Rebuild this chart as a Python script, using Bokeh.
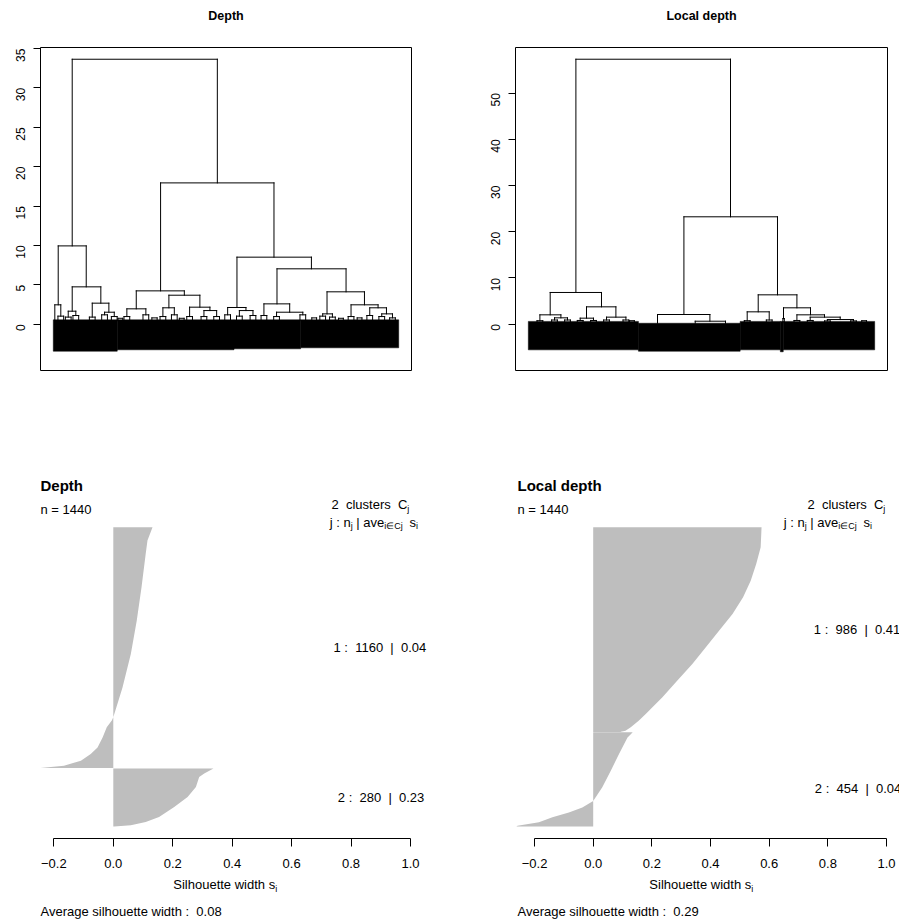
import math
from bokeh.plotting import figure
from bokeh.models import Range1d, FixedTicker, Label, CustomJSTickFormatter
from bokeh.layouts import column, row
from bokeh.embed import file_html
from bokeh.resources import INLINE

FONT = "Liberation Sans"
NB = "\u00a0"

# ----------------------------------------------------------------- data
N_OBS = 1440

# "Depth" dendrogram: visible merges (leaf-order positions, heights)
depth_x_left = [76.3, 17.6, 3.4, 76.3, 59.6, 160.2, 211.8, 446.5, 344.6, 305.2, 481.3, 456.2, 568.1,
                628.1, 766.4, 727.4, 776.5, 934.1, 879.4, 932.3, 1143.7, 1125.6, 1244.3, 1322.7, 1373.0]
depth_x_right = [684.2, 135.0, 28.5, 196.2, 91.4, 229.8, 252.4, 921.5, 545.9, 384.8, 611.1, 504.0, 653.2,
                 681.3, 1078.3, 804.1, 833.5, 1223.4, 987.3, 1042.3, 1300.5, 1166.3, 1357.5, 1392.7, 1417.9]
depth_height = [33.64, 9.94, 2.46, 4.74, 1.65, 2.67, 1.52, 17.94, 4.23, 1.95, 3.68, 2.08, 2.16,
                1.73, 8.51, 2.12, 1.73, 7.03, 2.58, 1.52, 4.11, 1.31, 2.46, 2.08, 1.31]
depth_h_left = [9.94, 2.46, 0.45, 1.65, 0.9, 0.9, 1.19, 4.23, 1.95, 0.97, 2.08, 0.97, 0.97,
                0.97, 2.12, 1.19, 1.02, 2.58, 1.1, 0.97, 1.31, 1.02, 0.97, 1.1, 0.97]
depth_h_right = [17.94, 4.74, 1.02, 2.67, 1.1, 1.52, 0.97, 8.51, 3.68, 1.19, 2.16, 1.19, 1.73,
                 0.97, 7.03, 1.73, 1.1, 4.11, 1.52, 1.19, 2.46, 0.9, 2.08, 1.31, 0.8]
depth_tiny_left = [16.5, 47.6, 79.4, 148.2, 199.8, 240.4, 268.0, 293.2, 372.8, 410.0, 444.2, 492.0, 525.0,
                   556.1, 616.1, 669.3, 715.4, 764.5, 821.5, 867.4, 920.3, 1030.3, 1080.0, 1113.6, 1154.3,
                   1192.0, 1232.3, 1270.0, 1310.7, 1361.0, 1405.9]
depth_tiny_right = [40.5, 71.6, 103.4, 172.2, 223.8, 264.4, 288.0, 317.2, 396.8, 432.0, 468.2, 516.0, 545.0,
                    580.1, 640.1, 693.3, 739.4, 788.5, 845.5, 891.4, 944.3, 1054.3, 1100.0, 1137.6, 1178.3,
                    1212.0, 1256.3, 1290.0, 1334.7, 1385.0, 1429.9]
depth_tiny_h = [1.02, 0.9, 1.1, 0.9, 1.19, 0.97, 0.75, 0.97, 1.19, 0.8, 0.97, 1.19, 0.75,
                0.97, 0.97, 0.97, 1.19, 1.02, 1.1, 1.1, 0.97, 1.19, 0.8, 1.02, 0.9,
                0.75, 0.97, 0.8, 1.1, 0.97, 0.8]
# leaf-label block (overlapping labels): section edges, top and bottom
depth_band_edges = [-3, 265, 754, 1033, 1444]
depth_band_top = [0.55, 0.55, 0.55, 0.55]
depth_band_bottom = [-3.43, -3.25, -3.13, -3.0]
depth_y_ticks = [0, 5, 10, 15, 20, 25, 30, 35]

# "Local depth" dendrogram
local_x_left = [195.8, 88.4, 45.4, 106.4, 240.1, 213.7, 323.7, 647.0, 536.7, 694.2, 957.4, 911.4,
                1063.1, 1060.5, 1119.1, 1174.6, 1246.5]
local_x_right = [841.7, 302.7, 133.1, 160.7, 362.9, 269.3, 404.7, 1038.0, 755.6, 820.8, 1119.1, 1003.4,
                 1175.9, 1066.5, 1234.4, 1299.9, 1355.5]
local_height = [57.35, 6.86, 2.02, 1.37, 3.75, 1.3, 1.52, 23.24, 2.09, 0.64, 6.35, 2.67,
                3.54, 1.2, 2.02, 1.52, 1.0]
local_h_left = [6.86, 2.02, 0.75, 0.9, 1.3, 0.8, 0.9, 2.09, 0.2, 0.2, 2.67, 0.75,
                1.2, 0.3, 0.8, 0.8, 0.7]
local_h_right = [23.24, 3.75, 1.37, 0.9, 1.52, 0.8, 0.9, 6.35, 0.64, 0.2, 3.54, 0.9,
                 2.02, 0.3, 1.52, 1.0, 0.7]
local_tiny_left = [33.4, 94.4, 148.7, 201.7, 257.3, 311.7, 392.7, 420.0, 899.4, 991.4, 1107.1, 1162.6,
                   1234.5, 1343.5, 1390.0]
local_tiny_right = [57.4, 118.4, 172.7, 225.7, 281.3, 335.7, 416.7, 440.0, 923.4, 1015.4, 1131.1, 1186.6,
                    1258.5, 1367.5, 1410.0]
local_tiny_h = [0.75, 0.9, 0.9, 0.8, 0.8, 0.9, 0.9, 0.75, 0.75, 0.9, 0.8, 0.8, 0.7, 0.7, 0.75]
local_band_edges = [-3, 457, 882, 1050, 1062, 1444]
local_band_top = [0.6, 0.2, 0.6, 0.6, 0.6]
local_band_bottom = [-5.56, -5.86, -5.56, -5.98, -5.56]
local_y_ticks = [0, 10, 20, 30, 40, 50]

# Silhouette profiles (rank within cluster, silhouette width)
depth_sizes = [1160, 280]
depth_avgs = ["0.04", "0.23"]
depth_overall = "0.08"
depth_c1_rank = [0, 64, 128, 289, 449, 610, 771, 915, 931, 963, 1012, 1060, 1092, 1124, 1148, 1159]
depth_c1_s = [0.132, 0.115, 0.109, 0.095, 0.079, 0.059, 0.031, 0.0, -0.005, -0.022, -0.036, -0.053,
              -0.076, -0.109, -0.166, -0.245]
depth_c2_rank = [0, 24, 40, 89, 137, 185, 233, 257, 273, 279]
depth_c2_s = [0.337, 0.306, 0.289, 0.278, 0.25, 0.205, 0.154, 0.109, 0.059, 0.003]

local_sizes = [986, 454]
local_avgs = ["0.41", "0.04"]
local_overall = "0.29"
local_c1_rank = [0, 96, 176, 257, 337, 417, 498, 578, 658, 738, 819, 899, 931, 963, 980, 985]
local_c1_s = [0.574, 0.571, 0.556, 0.537, 0.511, 0.475, 0.429, 0.384, 0.338, 0.287, 0.236, 0.179,
              0.156, 0.128, 0.11, 0.094]
local_c2_rank = [0, 24, 104, 184, 264, 330, 361, 385, 409, 433, 449, 453]
local_c2_s = [0.134, 0.117, 0.088, 0.06, 0.031, 0.0, -0.037, -0.083, -0.139, -0.185, -0.258, -0.262]

sil_x_ticks = [-0.2, 0.0, 0.2, 0.4, 0.6, 0.8, 1.0]

# ----------------------------------------------------------------- helpers
WIDTHS = {' ': .278, NB: .278, ':': .278, '|': .26, '.': .278, '=': .584, 'a': .556, 'c': .5,
          'd': .556, 'e': .556, 'g': .556, 'h': .556, 'i': .222, 'j': .222, 'l': .222, 'n': .556,
          'o': .556, 'r': .333, 's': .5, 't': .278, 'u': .556, 'v': .5, 'w': .722, 'C': .722,
          'S': .667, 'A': .667, '\u2208': .84}


def tw(s, size):
    return sum(WIDTHS.get(c, .556) for c in s) * size


def make_fig(origin, size, region, xr, yr):
    """Frame = whole canvas; ranges extended so that `region` (page px) maps onto xr / yr."""
    ox, oy = origin
    w, h = size
    fx0, fy0, fx1, fy1 = region
    kx = (xr[1] - xr[0]) / (fx1 - fx0)
    ky = (yr[1] - yr[0]) / (fy1 - fy0)
    cxr = (xr[0] - (fx0 - ox) * kx, xr[1] + (ox + w - fx1) * kx)
    cyr = (yr[0] - (oy + h - fy1) * ky, yr[1] + (fy0 - oy) * ky)
    p = figure(width=w, height=h, x_range=Range1d(*cxr), y_range=Range1d(*cyr),
               output_backend="svg", toolbar_location=None, min_border=0,
               min_border_left=0, min_border_right=0, min_border_top=0, min_border_bottom=0)
    p.grid.visible = False
    p.background_fill_color = "white"
    p.border_fill_color = "white"
    p.outline_line_color = None
    g = dict(fx0=fx0, fx1=fx1, fy0=fy0, fy1=fy1, xr=xr, yr=yr)
    return p, g


def label(p, g, px, py, text, size, bold=False, align="left"):
    x = g["xr"][0] + (px - g["fx0"]) / (g["fx1"] - g["fx0"]) * (g["xr"][1] - g["xr"][0])
    y = g["yr"][1] - (py - g["fy0"]) / (g["fy1"] - g["fy0"]) * (g["yr"][1] - g["yr"][0])
    p.add_layout(Label(x=x, y=y, text=text, text_font=FONT, text_font_size=f"{size}px",
                       text_font_style="bold" if bold else "normal", text_align=align,
                       text_baseline="middle", text_color="black"))


def rich(p, g, px, py, pieces, size=13, sub=9, drop=4):
    x = px
    for txt, is_sub in pieces:
        fs = sub if is_sub else size
        label(p, g, x, py + (drop if is_sub else 0), txt, fs)
        x += tw(txt, fs)


def dendrogram(p, g, title, xl, xr, h, hl, hr, tl, tr, th, leg, edges, top, bottom, ticks):
    x0, y0, x1, y1 = [], [], [], []
    for a, b, hh, ha, hb in zip(xl, xr, h, hl, hr):
        x0 += [a, a, b]; y0 += [ha, hh, hh]; x1 += [a, b, b]; y1 += [hh, hh, hb]
    for a, b, hh in zip(tl, tr, th):
        x0 += [a, a, b]; y0 += [leg, hh, hh]; x1 += [a, b, b]; y1 += [hh, hh, leg]
    p.quad(left=edges[:-1], right=edges[1:], top=top, bottom=bottom,
           fill_color="black", line_color="black", line_width=0.5)
    p.segment(x0=x0, y0=y0, x1=x1, y1=y1, line_color="black", line_width=1, line_cap="square")
    # plot box
    p.quad(left=[g["xr"][0]], right=[g["xr"][1]], bottom=[g["yr"][0]], top=[g["yr"][1]],
           fill_color=None, line_color="black", line_width=1)
    p.xaxis.visible = False
    ax = p.yaxis[0]
    ax.fixed_location = g["xr"][0]
    ax.ticker = FixedTicker(ticks=ticks)
    ax.bounds = (ticks[0], ticks[-1])
    ax.axis_line_color = None
    ax.major_tick_line_color = "black"
    ax.major_tick_out = 7
    ax.major_tick_in = 0
    ax.minor_tick_line_color = None
    ax.major_label_orientation = math.pi / 2
    ax.major_label_standoff = 13
    ax.major_label_text_font = FONT
    ax.major_label_text_font_size = "12px"
    ax.major_label_text_color = "black"
    cx = (g["fx0"] + g["fx1"]) / 2
    label(p, g, cx, 15.7, title, 12.5, bold=True, align="center")


def sil_poly(ranks, s, top, n):
    xs = [0.0, s[0]] + list(s) + [s[-1], 0.0]
    ys = [top, top] + [top - r - 0.5 for r in ranks] + [top - n, top - n]
    return xs, ys


def silhouette(p, g, title, sizes, avgs, overall, c1r, c1s, c2r, c2s,
               line1_x, line2_x, clus_pos, axis_center):
    n1, n2 = sizes
    total = n1 + n2 + 2
    xs1, ys1 = sil_poly(c1r, c1s, total, n1)
    xs2, ys2 = sil_poly(c2r, c2s, n2, n2)
    p.patch(xs1, ys1, fill_color="#BEBEBE", line_color=None)
    p.patch(xs2, ys2, fill_color="#BEBEBE", line_color=None)
    p.yaxis.visible = False
    ax = p.xaxis[0]
    ax.fixed_location = g["yr"][0]
    ax.ticker = FixedTicker(ticks=sil_x_ticks)
    ax.bounds = (sil_x_ticks[0], sil_x_ticks[-1])
    ax.formatter = CustomJSTickFormatter(
        code="return (tick < 0 ? '\u2212' : '') + Math.abs(tick).toFixed(1);")
    ax.axis_line_color = "black"
    ax.major_tick_line_color = "black"
    ax.major_tick_out = 8
    ax.major_tick_in = 0
    ax.minor_tick_line_color = None
    ax.major_label_standoff = 12
    ax.major_label_text_font = FONT
    ax.major_label_text_font_size = "13px"
    ax.major_label_text_color = "black"
    left = g["fx0"] + 1
    label(p, g, left, 485, title, 15, bold=True)
    label(p, g, left, 509, f"n = {N_OBS}", 13)
    rich(p, g, line1_x, 504.3, [(f"{len(sizes)}{NB}{NB}clusters{NB}{NB}C", False), ("j", True)])
    rich(p, g, line2_x, 521.7, [("j : n", False), ("j", True), (f"{NB}|{NB}ave", False),
                                ("i\u2208Cj", True), (f"{NB}{NB}s", False), ("i", True)])
    for j, (n, a, pos) in enumerate(zip(sizes, avgs, clus_pos), start=1):
        label(p, g, pos[0], pos[1], f"{j} :{NB}{NB}{n}{NB}{NB}|{NB}{NB}{a}", 13)
    w = tw("Silhouette width s", 13) + tw("i", 9)
    rich(p, g, axis_center - w / 2, 884, [("Silhouette width s", False), ("i", True)])
    label(p, g, left, 910.7, f"Average silhouette width :{NB}{NB}{overall}", 13)


# ----------------------------------------------------------------- figures
tl, gtl = make_fig((0, 0), (450, 460), (40, 47, 411, 370), (-56.56, 1497.56), (-5.88, 35.13))
dendrogram(tl, gtl, "Depth", depth_x_left, depth_x_right, depth_height, depth_h_left, depth_h_right,
           depth_tiny_left, depth_tiny_right, depth_tiny_h, 0.45,
           depth_band_edges, depth_band_top, depth_band_bottom, depth_y_ticks)

tr, gtr = make_fig((450, 0), (449, 460), (515, 47, 887, 370), (-56.56, 1497.56), (-10.03, 59.89))
dendrogram(tr, gtr, "Local depth", local_x_left, local_x_right, local_height, local_h_left, local_h_right,
           local_tiny_left, local_tiny_right, local_tiny_h, 0.5,
           local_band_edges, local_band_top, local_band_bottom, local_y_ticks)

bl, gbl = make_fig((0, 460), (450, 463), (39, 515, 410, 838), (-0.2483, 1.0), (-57.3, 1498.4))
silhouette(bl, gbl, "Depth", depth_sizes, depth_avgs, depth_overall,
           depth_c1_rank, depth_c1_s, depth_c2_rank, depth_c2_s,
           331.0, 329.3, [(333.0, 647.3), (337.3, 797.0)], 224.7)

br, gbr = make_fig((450, 460), (449, 463), (516, 515, 886, 838), (-0.2615, 1.0), (-57.3, 1498.4))
silhouette(br, gbr, "Local depth", local_sizes, local_avgs, local_overall,
           local_c1_rank, local_c1_s, local_c2_rank, local_c2_s,
           807.0, 783.3, [(813.3, 629.0), (814.3, 788.3)], 700.8)

layout = column(row(tl, tr), row(bl, br))
open("out.html", "w").write(file_html(layout, INLINE))
